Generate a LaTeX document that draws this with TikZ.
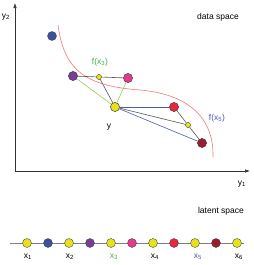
\documentclass[tikz,border=0pt]{standalone}
\usepackage{fontspec}
\setmainfont{Liberation Sans}
\usetikzlibrary{arrows.meta}
\definecolor{cyel}{HTML}{E8E11A}
\definecolor{cblue}{HTML}{3F4FA0}
\definecolor{cpurp}{HTML}{7B3A96}
\definecolor{cpink}{HTML}{E4398F}
\definecolor{cred}{HTML}{E5283C}
\definecolor{cdred}{HTML}{9E1A2E}
\definecolor{lgreen}{HTML}{8FD14F}
\definecolor{tgreen}{HTML}{3CB44A}
\definecolor{lblue}{HTML}{4A5BB0}
\definecolor{tblue}{HTML}{4A5BB0}
\definecolor{lred}{HTML}{F07A7A}
\tikzset{
  pt/.style={circle,draw=black!70,line width=0.4pt,minimum size=9pt,inner sep=0pt},
  spt/.style={circle,draw=black!70,line width=0.3pt,fill=cyel,minimum size=5pt,inner sep=0pt},
  lbl/.style={font=\fontsize{8.5}{10}\selectfont,inner sep=0pt},
  axis/.style={line width=0.6pt,black!80,-{Latex[length=5pt,width=3.5pt]}},
  glink/.style={black!65,line width=0.6pt},
  grn/.style={lgreen,line width=0.6pt},
  blu/.style={lblue,line width=0.6pt}
}
\begin{document}
\begin{tikzpicture}[x=1pt,y=-1pt]
\useasboundingbox (0,0) rectangle (254,265);
\fill[white] (0,0) rectangle (254,265);
% axes
\coordinate (o) at (15,171);
\coordinate (yt) at (15,3);
\coordinate (xr) at (250,171);
\draw[axis] (o) -- (yt);
\draw[axis] (o) -- (xr);
\node[lbl] (ly2) at (6,17) {y\textsubscript{2}};
\node[lbl] (ly1) at (242,184) {y\textsubscript{1}};
\node[lbl] (ds) at (218,17) {data space};
% curve
\draw[lred,line width=0.6pt] (58,25) .. controls (64,70) and (85,86) .. (140,90)
  .. controls (185,94) and (214,115) .. (213,157);
% links
\node[pt,fill=cpurp] (p) at (73,76) {};
\node[pt,fill=cpink] (k) at (128,78) {};
\node[spt] (f3) at (99,77) {};
\node[pt,fill=cyel] (y) at (115,107) {};
\node[pt,fill=cred] (r) at (174,107) {};
\node[pt,fill=cdred] (d) at (202,143) {};
\node[spt] (f5) at (188,125) {};
\node[pt,fill=cblue] (b) at (52,36) {};
\begin{scope}[on background layer/.try]
\end{scope}
\draw[glink] (p) -- (f3) -- (k);
\draw[grn] (p) -- (y);
\draw[grn] (k) -- (y);
\draw[glink] (f3) -- (y);
\draw[blu] (y) -- (r);
\draw[blu] (y) -- (d);
\draw[glink] (y) -- (f5);
\draw[glink] (r) -- (f5) -- (d);
% redraw nodes on top
\node[pt,fill=cpurp] at (p) {};
\node[pt,fill=cpink] at (k) {};
\node[spt] at (f3) {};
\node[pt,fill=cyel] at (y) {};
\node[pt,fill=cred] at (r) {};
\node[pt,fill=cdred] at (d) {};
\node[spt] at (f5) {};
\node[lbl,text=tgreen] (lf3) at (100,62) {f(x\textsubscript{3})};
\node[lbl,text=tblue] (lf5) at (217,118) {f(x\textsubscript{5})};
\node[lbl] (ly) at (109,127) {y};
% latent space
\node[lbl] (ls) at (221,211) {latent space};
\coordinate (l0) at (10,243);
\coordinate (l1) at (244,243);
\draw[black!50,line width=0.8pt] (l0) -- (l1);
\foreach \i/\c in {0/cyel,1/cblue,2/cyel,3/cpurp,4/cyel,5/cpink,6/cyel,7/cred,8/cyel,9/cdred,10/cyel}{
  \node[pt,fill=\c] (n\i) at (27+21*\i,243) {};
}
\node[lbl] (x1) at (28,257) {x\textsubscript{1}};
\node[lbl] (x2) at (70,257) {x\textsubscript{2}};
\node[lbl,text=tgreen] (x3) at (114,257) {x\textsubscript{3}};
\node[lbl] (x4) at (155,257) {x\textsubscript{4}};
\node[lbl,text=tblue] (x5) at (198,257) {x\textsubscript{5}};
\node[lbl] (x6) at (239,257) {x\textsubscript{6}};
\end{tikzpicture}
\end{document}
